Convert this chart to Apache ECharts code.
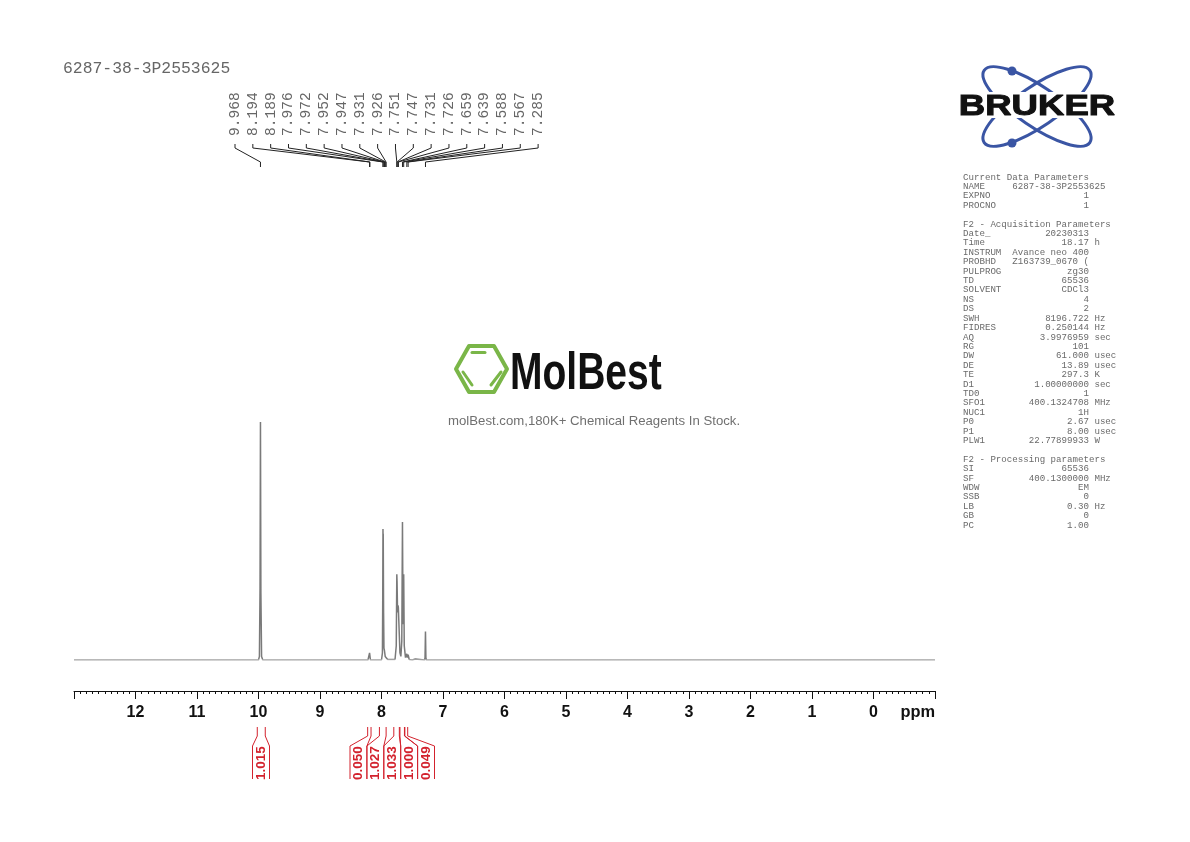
<!DOCTYPE html>
<html lang="en" style="height: 100%">
<head>
  <meta charset="utf-8">
</head>
<body style="height: 100%; margin: 0; background: #fff">
  <div id="container" style="width: 1190px; height: 842px;"></div>

  <script type="text/javascript" src="https://fastly.jsdelivr.net/npm/echarts@6.0.0/dist/echarts.min.js"></script>
  <script type="text/javascript">

    // spectrum: ppm and height (tallest peak = 100)
    var spectrumPpm = [13, 10.22, 10.2, 10.19, 10, 9.985, 9.975, 9.968, 9.961, 9.95, 9.93, 9.73, 9.72, 9.71,
      8.22, 8.205, 8.194, 8.189, 8.18, 8, 7.985, 7.98, 7.976, 7.974, 7.972, 7.966, 7.96, 7.952, 7.947, 7.94,
      7.931, 7.926, 7.9, 7.78, 7.76, 7.751, 7.747, 7.739, 7.731, 7.726, 7.7, 7.685, 7.67, 7.659, 7.65, 7.639,
      7.63, 7.61, 7.6, 7.588, 7.58, 7.567, 7.55, 7.5, 7.45, 7.44, 7.3, 7.292, 7.285, 7.278, 7.27,
      4.51, 4.5, 4.49, 2.06, 2.05, 2.04, 1.16, 1.15, 1.14, -1];
    var spectrumHeight = [0, 0, 0.8, 0, 0, 1.5, 30, 100, 28, 1.5, 0, 0, 0.8, 0,
      0, 0.6, 3, 2.6, 0, 0, 3, 25, 55, 50, 53, 20, 5, 4, 3.5, 1.5,
      2, 1.6, 0.2, 0.2, 6, 36, 33, 20, 23, 22, 3, 1.5, 8, 58, 15, 36,
      6, 1, 1, 2.6, 1, 2.2, 0.2, 0, 0.4, 0, 0, 1, 12, 1, 0,
      0, 0.5, 0, 0, 0.3, 0, 0, 0.3, 0, 0];

    var peakLabels = ['9.968', '8.194', '8.189', '7.976', '7.972', '7.952', '7.947', '7.931', '7.926',
      '7.751', '7.747', '7.731', '7.726', '7.659', '7.639', '7.588', '7.567', '7.285'];

    var integralLabels = ['1.015', '0.050', '1.027', '1.033', '1.000', '0.049'];
    var integralFrom = [10.02, 8.225, 8.034, 7.8, 7.7, 7.62];
    var integralTo = [9.89, 8.17, 7.925, 7.71, 7.627, 7.574];

    var paramNames = ['Current Data Parameters', 'NAME', 'EXPNO', 'PROCNO', '',
      'F2 - Acquisition Parameters', 'Date_', 'Time', 'INSTRUM', 'PROBHD', 'PULPROG', 'TD', 'SOLVENT', 'NS', 'DS',
      'SWH', 'FIDRES', 'AQ', 'RG', 'DW', 'DE', 'TE', 'D1', 'TD0', 'SFO1', 'NUC1', 'P0', 'P1', 'PLW1', '',
      'F2 - Processing parameters', 'SI', 'SF', 'WDW', 'SSB', 'LB', 'GB', 'PC'];
    var paramValues = ['', '6287-38-3P2553625', '1', '1', '',
      '', '20230313', '18.17', 'Avance neo 400', 'Z163739_0670 (', 'zg30', '65536', 'CDCl3', '4', '2',
      '8196.722', '0.250144', '3.9976959', '101', '61.000', '13.89', '297.3', '1.00000000', '1', '400.1324708', '1H', '2.67', '8.00', '22.77899933', '',
      '', '65536', '400.1300000', 'EM', '0', '0.30', '0', '1.00'];
    var paramUnits = ['', '', '', '', '',
      '', '', 'h', '', '', '', '', '', '', '',
      'Hz', 'Hz', 'sec', '', 'usec', 'usec', 'K', 'sec', '', 'MHz', '', 'usec', 'usec', 'W', '',
      '', '', 'MHz', '', '', 'Hz', '', ''];

    var paramLines = paramNames.map(function (name, i) {
      if (!paramValues[i]) return name;
      return name.padEnd(9) + paramValues[i].padStart(14) + (paramUnits[i] ? ' ' + paramUnits[i] : '');
    });

    var spectrum = spectrumPpm.map(function (p, i) { return [p, spectrumHeight[i]]; });

    // ppm of each assigned peak comes from its own label
    var peakData = peakLabels.map(function (t, i) { return [parseFloat(t), i]; });
    var integralData = integralLabels.map(function (t, i) { return [integralFrom[i], i, integralTo[i]]; });

    function renderPeakLabel(params, api) {
      var i = api.value(1);
      var px = api.coord([api.value(0), 0])[0];
      var lx = 235 + i * 17.83;
      return {
        type: 'group',
        children: [
          {
            type: 'polyline',
            shape: { points: [[lx, 144], [lx, 148], [px, 162], [px, 167]] },
            style: { stroke: '#222', lineWidth: 1, fill: null }
          },
          {
            type: 'text',
            x: lx,
            y: 136,
            rotation: Math.PI / 2,
            style: {
              text: peakLabels[i],
              font: '14.6px "Liberation Mono"',
              fill: '#666',
              align: 'left',
              verticalAlign: 'middle'
            }
          }
        ]
      };
    }

    function renderIntegral(params, api) {
      var i = api.value(1);
      var a = api.coord([api.value(0), 0])[0];
      var b = api.coord([api.value(2), 0])[0];
      // the first label sits under its own peak, the others stand side by side
      var left = i === 0 ? 252.5 : 350 + (i - 1) * 16.9;
      var right = left + (i === 0 ? 17 : 16.9);
      return {
        type: 'group',
        children: [
          {
            type: 'polyline',
            shape: { points: [[a, 727], [a, 736], [left, 746], [left, 779]] },
            style: { stroke: '#d3222d', lineWidth: 1, fill: null }
          },
          {
            type: 'polyline',
            shape: { points: [[b, 727], [b, 736], [right, 746], [right, 779]] },
            style: { stroke: '#d3222d', lineWidth: 1, fill: null }
          },
          {
            type: 'text',
            x: (left + right) / 2,
            y: 780,
            rotation: Math.PI / 2,
            style: {
              text: integralLabels[i],
              font: 'bold 13.5px "Liberation Sans"',
              fill: '#d3222d',
              align: 'left',
              verticalAlign: 'middle'
            }
          }
        ]
      };
    }

    var orbit = { stroke: '#3a55a4', lineWidth: 3, fill: null };

    var logos = [
      // MolBest
      { type: 'polygon', shape: { points: [[456, 369], [469, 346], [494, 346], [507, 369], [494, 392], [469, 392]] },
        style: { stroke: '#7ab648', lineWidth: 4, fill: null, lineJoin: 'round' } },
      { type: 'line', shape: { x1: 472, y1: 352.5, x2: 485, y2: 352.5 }, style: { stroke: '#7ab648', lineWidth: 3, lineCap: 'round' } },
      { type: 'line', shape: { x1: 463, y1: 372, x2: 472, y2: 385 }, style: { stroke: '#7ab648', lineWidth: 3, lineCap: 'round' } },
      { type: 'line', shape: { x1: 491, y1: 385, x2: 501, y2: 372 }, style: { stroke: '#7ab648', lineWidth: 3, lineCap: 'round' } },
      { type: 'text', x: 510, y: 401, scaleX: 0.75, scaleY: 1,
        style: { text: 'MolBest', font: 'bold 52px "Liberation Sans"', fill: '#111', align: 'left', verticalAlign: 'bottom' } },
      { type: 'text', x: 448, y: 421,
        style: { text: 'molBest.com,180K+ Chemical Reagents In Stock.', font: '13.2px "Liberation Sans"', fill: '#707070', align: 'left', verticalAlign: 'middle' } },
      // Bruker
      { type: 'ellipse', x: 1037, y: 106.5, rotation: 0.6, shape: { cx: 0, cy: 0, rx: 64, ry: 20 }, style: orbit },
      { type: 'ellipse', x: 1037, y: 106.5, rotation: -0.6, shape: { cx: 0, cy: 0, rx: 64, ry: 20 }, style: orbit },
      { type: 'circle', shape: { cx: 1012, cy: 71, r: 4.5 }, style: { fill: '#3a55a4' } },
      { type: 'circle', shape: { cx: 1012, cy: 143, r: 4.5 }, style: { fill: '#3a55a4' } },
      { type: 'rect', shape: { x: 955, y: 92, width: 164, height: 26 }, style: { fill: '#fff' } },
      { type: 'text', x: 1037, y: 107, scaleX: 1.26, scaleY: 1,
        style: { text: 'BRUKER', font: 'bold 29px "Liberation Sans"', fill: '#111', stroke: '#111', lineWidth: 1, align: 'center', verticalAlign: 'middle' } }
    ];

    var texts = [
      { type: 'text', x: 63, y: 68.5,
        style: { text: '6287-38-3P2553625', font: '16.4px "Liberation Mono"', fill: '#666', align: 'left', verticalAlign: 'middle' } },
      { type: 'text', x: 963, y: 172.5,
        style: { text: paramLines.join('\n'), font: '9.13px "Liberation Mono"', lineHeight: 9.405, fill: '#6a6a6a', align: 'left', verticalAlign: 'top' } },
      { type: 'text', x: 935, y: 712.5,
        style: { text: 'ppm', font: 'bold 16.4px "Liberation Sans"', fill: '#111', align: 'right', verticalAlign: 'middle' } }
    ];

    var myChart = echarts.init(document.getElementById('container'), null, { renderer: 'canvas' });

    var option = {
      animation: false,
      backgroundColor: '#fff',
      grid: { left: 74, width: 861, top: 422, height: 238 },
      xAxis: {
        type: 'value',
        min: -1,
        max: 13,
        interval: 1,
        inverse: true,
        offset: 31,
        position: 'bottom',
        axisLine: { onZero: false, lineStyle: { color: '#111', width: 1 } },
        axisTick: { show: true, length: 8, lineStyle: { color: '#111', width: 1 } },
        minorTick: { show: true, splitNumber: 10, length: 3, lineStyle: { color: '#111', width: 1 } },
        splitLine: { show: false },
        minorSplitLine: { show: false },
        axisLabel: {
          show: true,
          margin: 14,
          showMinLabel: false,
          showMaxLabel: false,
          color: '#111',
          fontFamily: 'Liberation Sans',
          fontWeight: 'bold',
          fontSize: 16
        }
      },
      yAxis: { type: 'value', min: 0, max: 100, show: false },
      series: [
        {
          type: 'line',
          data: spectrum,
          showSymbol: false,
          symbol: 'none',
          sampling: null,
          clip: false,
          // peaks read darker than the pale baseline
          lineStyle: {
            width: 1.5,
            color: new echarts.graphic.LinearGradient(0, 0, 0, 1, [
              { offset: 0, color: '#7a7a7a' },
              { offset: 0.985, color: '#7a7a7a' },
              { offset: 0.99, color: '#c4c4c4' },
              { offset: 1, color: '#c4c4c4' }
            ])
          }
        },
        {
          type: 'custom',
          data: peakData,
          encode: { x: 0, y: 1 },
          renderItem: renderPeakLabel,
          clip: false,
          silent: true
        },
        {
          type: 'custom',
          data: integralData,
          encode: { x: 0, y: 1 },
          renderItem: renderIntegral,
          clip: false,
          silent: true
        }
      ],
      graphic: { elements: logos.concat(texts) }
    };

    myChart.setOption(option);
    window.addEventListener('resize', myChart.resize);

  </script>
</body>
</html>
